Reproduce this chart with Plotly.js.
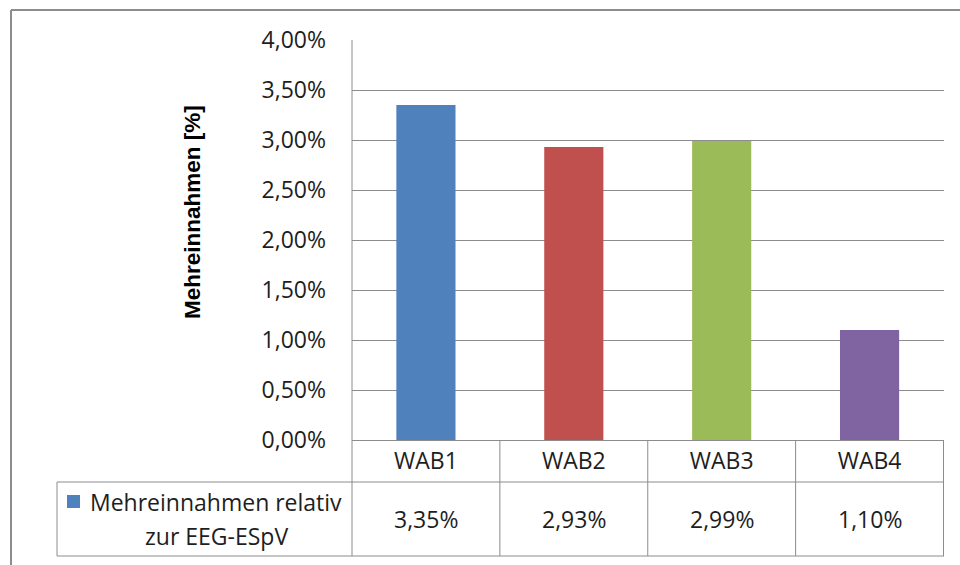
<!DOCTYPE html>
<html>
<head>
<meta charset="utf-8">
<script src="https://cdn.plot.ly/plotly-3.0.1.min.js"></script>
<style>
  html, body { margin: 0; padding: 0; background: #ffffff; }
  #chart { width: 960px; height: 565px; }
</style>
</head>
<body>
<div id="chart"></div>
<script>
// Kategorien und Werte (Mehreinnahmen in %)
const categories = ["WAB1", "WAB2", "WAB3", "WAB4"];
const values = [3.35, 2.93, 2.99, 1.10];
const barColors = ["#4F81BD", "#C0504D", "#9BBB59", "#8064A2"];
const seriesNameLines = ["Mehreinnahmen relativ", "zur EEG-ESpV"];
const axisTitle = "Mehreinnahmen [%]";
const yTicks = [0, 0.5, 1, 1.5, 2, 2.5, 3, 3.5, 4];

// Seitenmaße und Plotbereich in Pixeln
const W = 960, H = 565;
const M = { l: 352, r: 16, t: 40, b: 125 };
const PW = W - M.l - M.r, PH = H - M.t - M.b;
const px = x => (x - M.l) / PW;            // Pixel -> paper (x)
const py = y => (M.t + PH - y) / PH;        // Pixel -> paper (y)

const FONT = "Open Sans, Liberation Sans, Arial, sans-serif";
const TITLE_FONT = "Liberation Sans, Arial, sans-serif";
const FS = 23;
const LINE = "#8c8c8c";
const TEXT = "#1e1e1e";

const fmt = v => v.toFixed(2).replace(".", ",") + "%";

const trace = {
  type: "bar",
  x: categories,
  y: values,
  marker: { color: barColors, line: { width: 0 } },
  width: 0.4,
  hoverinfo: "x+y",
  showlegend: false
};

// Datentabelle unter der Achse
const rowTop = 482, rowBottom = 556, legLeft = 57;
const shapes = [];
const hline = (x0, x1, y, xref) => shapes.push({
  type: "line", xref: xref, yref: "paper", x0: x0, x1: x1, y0: py(y), y1: py(y),
  line: { color: LINE, width: 1 }
});
const vline = (x, y0, y1, xref) => shapes.push({
  type: "line", xref: xref, yref: "paper", x0: x, x1: x, y0: py(y0), y1: py(y1),
  line: { color: LINE, width: 1 }
});
hline(px(legLeft), 1, rowTop, "paper");
hline(px(legLeft), 1, rowBottom, "paper");
vline(px(legLeft), rowTop, rowBottom, "paper");
vline(0, M.t, rowBottom, "paper");
for (let i = 0; i < categories.length; i++) {
  vline(i + 0.5, M.t + PH, rowBottom, "x");
}
// Legendensymbol
shapes.push({
  type: "rect", xref: "paper", yref: "paper",
  x0: px(67), x1: px(80), y0: py(495), y1: py(508),
  fillcolor: barColors[0], line: { width: 0 }
});
// Rahmen des Diagrammbereichs
shapes.push({ type: "line", xref: "paper", yref: "paper",
  x0: px(11), x1: px(W + 2), y0: py(10), y1: py(10),
  line: { color: LINE, width: 2 } });
shapes.push({ type: "line", xref: "paper", yref: "paper",
  x0: px(11), x1: px(11), y0: py(10), y1: py(H + 2),
  line: { color: LINE, width: 2 } });

const annotations = [];
categories.forEach((c, i) => {
  annotations.push({
    xref: "x", yref: "paper", x: c, y: py(519),
    text: fmt(values[i]), showarrow: false,
    xanchor: "center", yanchor: "middle",
    font: { family: FONT, size: FS, color: TEXT }
  });
});
// Reihenbezeichnung in der Legendenzelle, zweizeilig
const legendLineY = [502, 536];
seriesNameLines.forEach((t, i) => {
  annotations.push({
    xref: "paper", yref: "paper", x: px(216), y: py(legendLineY[i]),
    text: t, showarrow: false,
    xanchor: "center", yanchor: "middle",
    font: { family: FONT, size: FS, color: TEXT }
  });
});
annotations.push({
  xref: "paper", yref: "paper", x: px(192), y: py(212),
  text: "<b>" + axisTitle + "</b>", showarrow: false, textangle: -90,
  xanchor: "center", yanchor: "middle",
  font: { family: TITLE_FONT, size: 22.5, color: "#000000" }
});

const layout = {
  width: W, height: H,
  margin: M,
  paper_bgcolor: "#ffffff",
  plot_bgcolor: "#ffffff",
  separators: ",.",
  font: { family: FONT, size: FS, color: TEXT },
  showlegend: false,
  bargap: 0.6,
  xaxis: {
    type: "category",
    showgrid: false,
    zeroline: false,
    showline: true, linecolor: LINE, linewidth: 1,
    ticks: "", ticklabelstandoff: 0,
    tickfont: { family: FONT, size: FS, color: TEXT },
    fixedrange: true
  },
  yaxis: {
    range: [0, 4],
    tickvals: yTicks,
    ticktext: yTicks.map(fmt),
    showgrid: true, gridcolor: LINE, gridwidth: 1,
    zeroline: false,
    showline: false,
    ticks: "", ticklabelstandoff: 25,
    tickfont: { family: FONT, size: FS, color: TEXT },
    fixedrange: true
  },
  shapes: shapes,
  annotations: annotations
};

Plotly.newPlot("chart", [trace], layout, { displayModeBar: false, staticPlot: true });
</script>
</body>
</html>
